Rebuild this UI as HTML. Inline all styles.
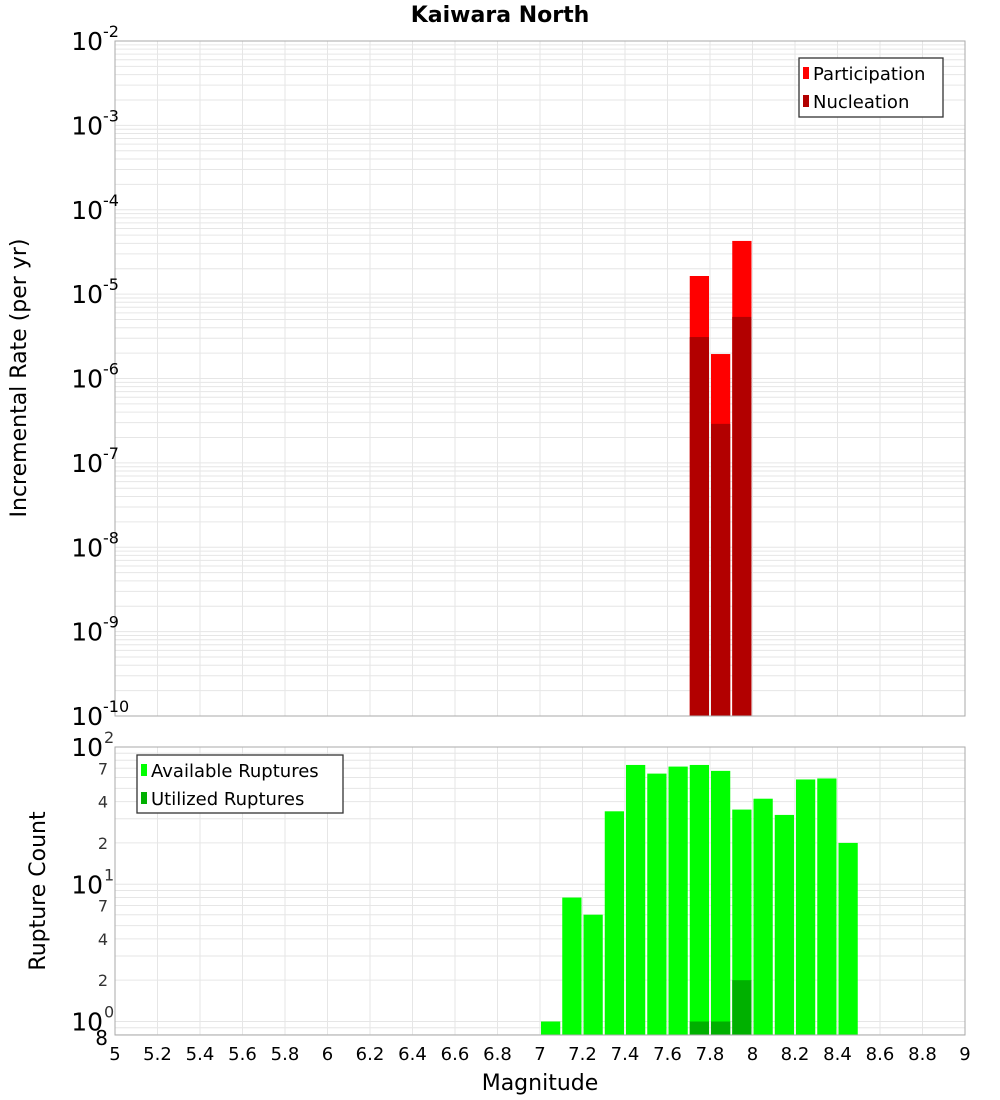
<!DOCTYPE html>
<html><head><meta charset="utf-8"><style>
body{margin:0;background:#fff;}
svg{display:block;font-family:"DejaVu Sans","Liberation Sans",sans-serif;}
</style></head><body>
<svg id="chart" width="1000" height="1100"></svg>
<script>
const magBins=[7.7,7.8,7.9];
const participation=[1.64e-5,1.95e-6,4.27e-5];
const nucleation=[3.1e-6,2.9e-7,5.37e-6];
const countBins=[7.0,7.1,7.2,7.3,7.4,7.5,7.6,7.7,7.8,7.9,8.0,8.1,8.2,8.3,8.4];
const available=[1,8,6,34,74,64,72,74,67,35,42,32,58,59,20];
const utilBins=[7.7,7.8,7.9];
const utilized=[1,1,2];
const xTicks=[5,5.2,5.4,5.6,5.8,6,6.2,6.4,6.6,6.8,7,7.2,7.4,7.6,7.8,8,8.2,8.4,8.6,8.8,9];
const topExps=[-2,-3,-4,-5,-6,-7,-8,-9,-10];
const botExps=[2,1,0];
const botMinor=[7,4,2];

const NS="http://www.w3.org/2000/svg";
const svg=document.getElementById('chart');
function mk(tag,attrs,parent){const e=document.createElementNS(NS,tag);for(const k in attrs)e.setAttribute(k,attrs[k]);(parent||svg).appendChild(e);return e;}
const L=115,R=965;
const T1=41,B1=716,T2=747,B2=1035;
const xs=m=>L+(m-5)*(R-L)/4;
const y1=v=>T1+(-2-Math.log10(v))*(B1-T1)/8;
const y2=v=>T2+(2-Math.log10(v))*(1021.5-T2)/2;

// title
let t=mk('text',{x:500,y:22,'text-anchor':'middle','font-size':22,'font-weight':'bold'});t.textContent='Kaiwara North';



// grids top
const g1=mk('g',{});


for(let e=-10;e<-2;e++){for(let k=1;k<10;k++){const y=y1(k*Math.pow(10,e));mk('line',{x1:L,x2:R,y1:y,y2:y,stroke:'#e6e6e6','stroke-width':1},g1);}}
xTicks.forEach(m=>{mk('line',{x1:xs(m),x2:xs(m),y1:T1,y2:B1,stroke:'#e6e6e6'},g1);mk('line',{x1:xs(m),x2:xs(m),y1:T2,y2:B2,stroke:'#e6e6e6'},g1);});
for(let e=-1;e<2;e++){for(let k=1;k<10;k++){const v=k*Math.pow(10,e);if(v<0.8)continue;const y=y2(v);mk('line',{x1:L,x2:R,y1:y,y2:y,stroke:'#e6e6e6'},g1);}}

// bars top
const bw=(R-L)/40;
magBins.forEach((m,i)=>{
 let r=mk('rect',{x:xs(m)+1,y:y1(participation[i]),width:bw-2,height:B1-y1(participation[i]),fill:'#ff0000'});
 
 
 r=mk('rect',{x:xs(m)+1,y:y1(nucleation[i]),width:bw-2,height:B1-y1(nucleation[i]),fill:'#b20000'});
 
 
});
countBins.forEach((m,i)=>{
 const r=mk('rect',{x:xs(m)+1,y:y2(available[i]),width:bw-2,height:B2-y2(available[i]),fill:'#00ff00'});
 
 
});
utilBins.forEach((m,i)=>{
 const r=mk('rect',{x:xs(m)+1,y:y2(utilized[i]),width:bw-2,height:B2-y2(utilized[i]),fill:'#00b000'});
 
 
});

// frames
let f=mk('rect',{x:L,y:T1,width:R-L,height:B1-T1,fill:'none',stroke:'#aaa'});


f=mk('rect',{x:L,y:T2,width:R-L,height:B2-T2,fill:'none',stroke:'#aaa'});



// top y labels
topExps.forEach(e=>{const y=y1(Math.pow(10,e));
 const tx=mk('text',{x:103,y:y+9,'text-anchor':'end','font-size':25});tx.textContent='10';
 
 
 const s=mk('text',{x:103,y:y-4,'font-size':16});s.textContent=String(e);
 
 
});
botExps.forEach(e=>{const y=y2(Math.pow(10,e));
 const tx=mk('text',{x:103,y:y+9,'text-anchor':'end','font-size':25});tx.textContent='10';
 
 
 const s=mk('text',{x:104,y:y-4,'font-size':16,fill:'#333'});s.textContent=String(e);
 
 
});
[0,1].forEach(e=>botMinor.forEach(k=>{const y=y2(k*Math.pow(10,e));
 const tx=mk('text',{x:108,y:y+6,'text-anchor':'end','font-size':16,fill:'#333'});tx.textContent=String(k);
 
 
}));
t=mk('text',{x:108,y:y2(0.8)+10,'text-anchor':'end','font-size':20});t.textContent='8';



// x labels
xTicks.forEach(m=>{const tx=mk('text',{x:xs(m),y:1060,'text-anchor':'middle','font-size':18});tx.textContent=String(m);
 
 });
t=mk('text',{x:540,y:1090,'text-anchor':'middle','font-size':22});t.textContent='Magnitude';


t=mk('text',{x:0,y:0,'text-anchor':'middle','font-size':22,transform:'translate(26,378) rotate(-90)'});t.textContent='Incremental Rate (per yr)';


t=mk('text',{x:0,y:0,'text-anchor':'middle','font-size':22,transform:'translate(45,891) rotate(-90)'});t.textContent='Rupture Count';



// legends
function legend(x,y,w,h,items,name){
 const g=mk('g',{});
 
 
 mk('rect',{x:x,y:y,width:w,height:h,fill:'#fff',stroke:'#333','stroke-width':1.3},g);
 items.forEach((it,i)=>{const cy=y+15+i*28;
  mk('rect',{x:x+4,y:cy-6,width:6,height:12,fill:it[1]},g);
  const tx=mk('text',{x:x+14,y:cy+7,'font-size':18},g);tx.textContent=it[0];
  
  
 });
}
legend(799,58,144,59,[['Participation','#ff0000'],['Nucleation','#b20000']],'top-legend');
legend(137,755,206,58,[['Available Ruptures','#00ff00'],['Utilized Ruptures','#00b000']],'bottom-legend');
</script>
</body></html>
